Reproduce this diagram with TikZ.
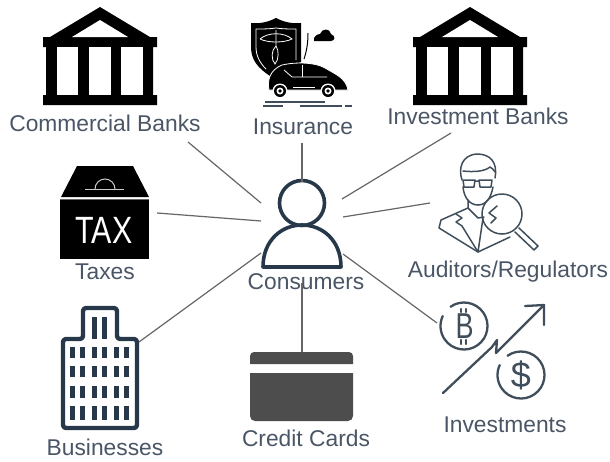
\documentclass[tikz,border=0pt]{standalone}
\usepackage{fontspec}
\usepackage{graphicx}
\setmainfont{Liberation Sans}
\definecolor{labelgray}{HTML}{4A5666}
\definecolor{icondark}{HTML}{26384A}
\definecolor{icongray}{HTML}{3F4E5A}
\definecolor{linkgray}{HTML}{666666}
\definecolor{cardgray}{HTML}{4D4D4D}
\tikzset{
	lbl/.style={inner sep=0pt, text=labelgray, font=\fontsize{22.8}{24}\selectfont},
	link/.style={draw=linkgray, line width=1.2pt},
	outline/.style={draw=icondark, line width=3.6pt, line join=round},
	thinline/.style={draw=icongray, line width=1.5pt, line join=round, line cap=round},
	coinline/.style={draw=icongray, line width=2.3pt, line cap=round, line join=round},
	bank/.pic={
		\fill[black] (100,7) -- (150,37) -- (157,37) -- (157,47) -- (153,47) -- (153,95) -- (157,95) -- (157,105) -- (43,105) -- (43,95) -- (46,95) -- (46,47) -- (43,47) -- (43,37) -- (50,37) -- cycle;
		\fill[white] (100,20) -- (128,37) -- (72,37) -- cycle;
		\fill[white] (57,47) rectangle (78,95);
		\fill[white] (89,47) rectangle (111,95);
		\fill[white] (121,47) rectangle (143,95);
	}
}
\begin{document}
\begin{tikzpicture}[x=1pt,y=-1pt]
	\useasboundingbox (0,0) rectangle (610,461);
	% banks
	\pic at (0,0) {bank};
	\pic at (370,0) {bank};
	% insurance
	\fill[black] (276,18) .. controls (268,22) and (260,24) .. (251,23) -- (251,47) .. controls (251,60) and (258,68) .. (270,76) -- (301,62) -- (301,23) .. controls (292,24) and (284,22) .. (276,18) -- cycle;
	\draw[white, line width=0.8pt] (276,28) .. controls (270,29) and (262,29) .. (256,29) -- (256,47) .. controls (256,56) and (260,63) .. (266,69);
	\draw[white, line width=0.8pt] (276,28) .. controls (282,29) and (290,29) .. (296,29) -- (296,60);
	\draw[white, line width=0.8pt] (260,39) .. controls (268,32) and (284,32) .. (292,39) .. controls (284,43) and (268,43) .. (260,39);
	\draw[white, line width=0.8pt] (276,30) -- (276,46) .. controls (271,50) and (271,60) .. (275,64) .. controls (279,60) and (279,50) .. (276,46);
	\fill[black, draw=white, line width=0.8pt] (269,90) .. controls (267,80) and (270,70) .. (282,65) .. controls (295,62) and (315,62) .. (325,68) .. controls (335,74) and (346,78) .. (348,90) -- cycle;
	\draw[white, line width=0.8pt] (284,70) -- (292,77) -- (327,77);
	\draw[white, line width=0.8pt] (302,65) -- (302,77);
	\draw[white, line width=0.8pt] (293,87) -- (315,87);
	\foreach \wx in {280,328} {
		\fill[white] (\wx,91) circle (7.5);
		\fill[black] (\wx,91) circle (6);
		\fill[white] (\wx,91) circle (3.5);
		\fill[black] (\wx,91) circle (1.8);
	}
	\draw[black, line width=1pt] (308,33) .. controls (308,42) and (307,50) .. (304,59);
	\fill[black] (314,41) .. controls (313,36) and (318,34) .. (320,34) .. controls (322,28) and (330,28) .. (331,34) .. controls (336,36) and (335,41) .. (331,41) -- cycle;
	\draw[draw=icongray, line width=1.2pt] (265,102) -- (325,102) (263,106) -- (283,106) (300,106) -- (342,106) (345,106) -- (352,106);
	% tax box
	\fill[black] (77,166) -- (133,166) -- (149,197) -- (61,197) -- cycle;
	\fill[black] (60,200) rectangle (149,259);
	\draw[draw=black!60, line width=1pt] (60,199) -- (149,199);
	\draw[white!80!black, line width=1pt] (85,189) -- (124,189);
	\draw[white!80!black, line width=1pt] (95,189) arc[start angle=180, end angle=360, radius=10];
	\node (TaxMark) at (104,230) [inner sep=0pt, text=white, font=\fontsize{38}{38}\selectfont] {\scalebox{0.8}[1]{TAX}};
	% auditor
	\draw[thinline] (462,180) .. controls (458,168) and (462,155) .. (477,154) .. controls (490,154) and (498,162) .. (495,178);
	\draw[thinline] (463,171) .. controls (472,172) and (484,172) .. (490,167) .. controls (492,168) and (494,170) .. (495,172);
	\draw[thinline] (463,187) .. controls (464,198) and (470,205) .. (478,205) .. controls (486,205) and (491,198) .. (493,187);
	\draw[thinline] (463,180) -- (475,180) -- (474,187) -- (464,187) -- cycle (479,180) -- (492,180) -- (491,187) -- (480,187) -- cycle (475,181) -- (479,181);
	\draw[thinline] (468,200) -- (468,208) -- (441,220) -- (439,228) -- (478,252) -- (510,237);
	\draw[thinline] (468,208) -- (478,218) -- (484,217);
	\draw[thinline] (456,214) -- (462,218) -- (456,222) -- (462,226) -- (478,252) -- (483,218);
	\draw[thinline] (497,206) -- (489,213) -- (496,218) -- (491,223);
	\draw[thinline] (502,214) circle (20);
	\draw[thinline] (519,228) -- (538,246) -- (534,250) -- (515,232);
	% investments
	\draw[coinline] (464,326) ++(235:23.5) arc[start angle=235, end angle=565, radius=23.5];
	\node (CoinB) at (464.5,326) [inner sep=0pt, text=icongray, font=\fontsize{36}{36}\selectfont] {\scalebox{0.75}[1]{B}};
	\draw[coinline] (461,309) -- (461,312) (466,309) -- (466,312) (461,340) -- (461,344) (466,340) -- (466,344);
	\draw[coinline] (521,375) ++(235:23.5) arc[start angle=235, end angle=565, radius=23.5];
	\node (CoinD) at (521,375) [inner sep=0pt, text=icongray, font=\fontsize{36}{36}\selectfont] {\$};
	\draw[coinline] (443,393) -- (492,347) -- (497,340) -- (496,353) -- (544,305);
	\draw[coinline] (525,306) -- (544,305) -- (544,325);
	% building
	\draw[outline, line width=4.4pt, rounded corners=3pt] (63,339) -- (83,339) -- (83,308) -- (117,308) -- (117,339) -- (137,339) -- (137,428) -- (63,428) -- cycle;
	\foreach \wx in {92,102} \fill[icondark] (\wx,317) rectangle +(5,22);
	\foreach \wx in {70,80,92,102,114,124} {
		\fill[icondark] (\wx,347) rectangle +(5,11);
		\fill[icondark] (\wx,366) rectangle +(5,11);
		\fill[icondark] (\wx,386) rectangle +(5,12);
		\fill[icondark] (\wx,406) rectangle +(5,14);
	}
	% credit card
	\fill[cardgray] (250,364) -- (250,356) arc[start angle=180, end angle=270, radius=4] -- (349,352) arc[start angle=270, end angle=360, radius=4] -- (353,364) -- cycle;
	\fill[cardgray] (250,373) -- (353,373) -- (353,416) arc[start angle=0, end angle=90, radius=5] -- (255,421) arc[start angle=90, end angle=180, radius=5] -- cycle;
	% consumer
	\draw[outline] (302,203) circle (22.5);
	\draw[outline] (263,267) .. controls (263,240) and (282,225) .. (302,225) .. controls (322,225) and (341,240) .. (341,267) -- cycle;
	% labels
	\node (CommercialBanks) at (105,123) [lbl] {Commercial Banks};
	\node (Insurance) at (303,127) [lbl] {Insurance};
	\node (InvestmentBanks) at (478,116) [lbl] {Investment Banks};
	\node (Taxes) at (105,272) [lbl] {Taxes};
	\node (Consumers) at (306,282) [lbl] {Consumers};
	\node (Auditors) at (508,272) [lbl] {Auditors/Regulators};
	\node (Businesses) at (105,447) [lbl] {Businesses};
	\node (CreditCards) at (306,438) [lbl] {Credit Cards};
	\node (Investments) at (505,425) [lbl] {Investments};
	% connector ends
	\coordinate (C1) at (261,203);
	\coordinate (C2) at (261,221);
	\coordinate (C3) at (302,182);
	\coordinate (C4) at (342,199);
	\coordinate (C5) at (343,217);
	\coordinate (C6) at (343,254);
	\coordinate (C7) at (302,283);
	\coordinate (C8) at (261,253);
	\coordinate (P1) at (188,142);
	\coordinate (P2) at (157,213);
	\coordinate (P3) at (302,143);
	\coordinate (P4) at (451,133);
	\coordinate (P5) at (430,203);
	\coordinate (P6) at (437,323);
	\coordinate (P7) at (302,352);
	\coordinate (P8) at (139,342);
	\draw[link] (C1) -- (P1);
	\draw[link] (C2) -- (P2);
	\draw[link] (C3) -- (P3);
	\draw[link] (C4) -- (P4);
	\draw[link] (C5) -- (P5);
	\draw[link] (C6) -- (P6);
	\draw[link] (C7) -- (P7);
	\draw[link] (C8) -- (P8);
\end{tikzpicture}
\end{document}
